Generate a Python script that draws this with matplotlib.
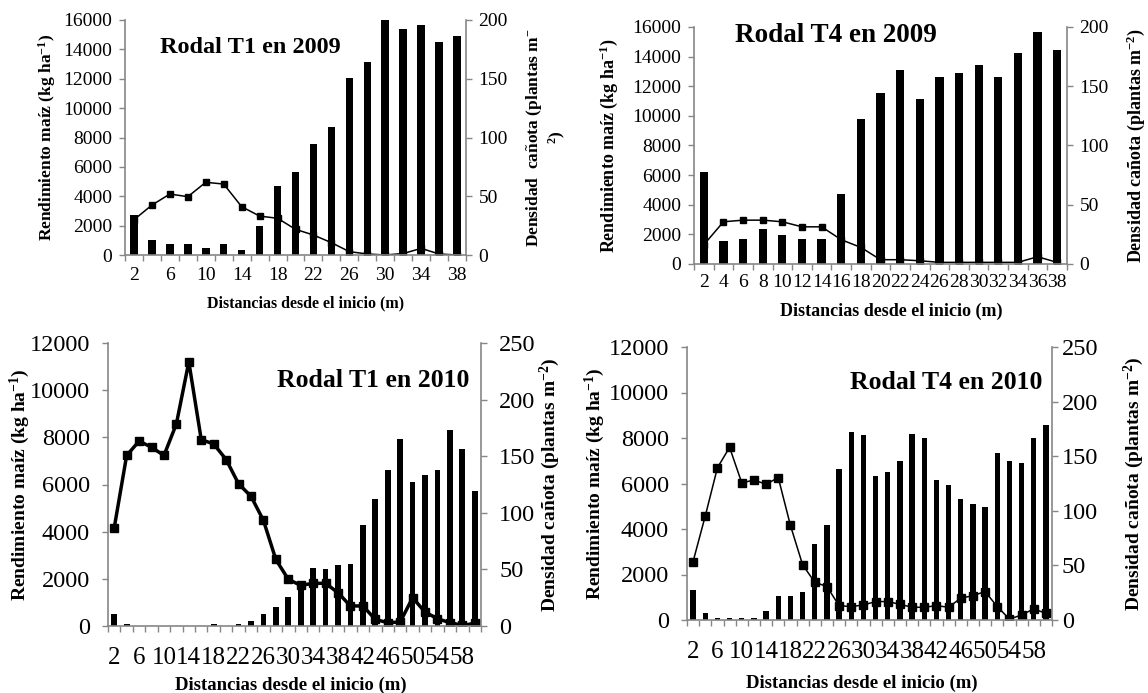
import numpy as np
import matplotlib
matplotlib.use("Agg")
import matplotlib.pyplot as plt
from matplotlib.ticker import FixedLocator, MultipleLocator, NullFormatter

plt.rcParams['font.family'] = ['Liberation Serif', 'DejaVu Serif']
plt.rcParams['mathtext.default'] = 'regular'

# distances from the start (m)
dist_2009 = [2, 4, 6, 8, 10, 12, 14, 16, 18, 20, 22, 24, 26, 28, 30, 32, 34, 36, 38]
dist_2010 = [2, 4, 6, 8, 10, 12, 14, 16, 18, 20, 22, 24, 26, 28, 30,
             32, 34, 36, 38, 40, 42, 44, 46, 48, 50, 52, 54, 56, 58, 60]

# Rodal T1 2009
t1_2009_maize = [2400, 3400, 4150, 3970, 4950, 4830, 3290, 2650, 2500, 1750,
                 1360, 840, 230, 70, 0, 100, 450, 70, 0]
t1_2009_weed = [34, 12.8, 9, 9, 5.7, 9, 4.3, 24.7, 59, 71,
                94.5, 109, 151, 164, 200, 192, 196, 181, 186]

# Rodal T4 2009
t4_2009_maize = [1300, 2850, 2960, 2960, 2850, 2510, 2510, 1640, 1120, 290,
                 290, 220, 110, 110, 110, 110, 110, 490, 110]
t4_2009_weed = [78, 19.4, 21, 29.5, 24.4, 21, 21, 59, 122.6, 144,
                164, 139, 158, 161, 168, 158, 178, 196, 181]

# Rodal T1 2010
t1_2010_maize = [4160, 7230, 7840, 7580, 7230, 8570, 11200, 7900, 7720, 7060,
                 6030, 5500, 4480, 2820, 1980, 1720, 1810, 1810, 1410, 850,
                 850, 280, 140, 170, 1200, 590, 310, 140, 30, 110]
t1_2010_weed = [11, 2, 0, 0, 0, 0, 0, 0, 2, 0,
                2, 4, 11, 17, 26, 37, 51, 50, 53.5, 55,
                89, 112, 138, 165, 127.6, 133, 138, 173.5, 156, 119]

# Rodal T4 2010
t4_2010_maize = [2570, 4570, 6690, 7590, 6030, 6150, 5970, 6260, 4160, 2430,
                 1660, 1470, 630, 590, 660, 810, 810, 690, 560, 560,
                 630, 560, 960, 1070, 1250, 590, 40, 220, 490, 290]
t4_2010_weed = [27.6, 6.4, 2, 2, 2, 2, 8.3, 22, 22, 25.4,
                70, 87, 138, 172.5, 169, 132, 135.6, 146, 170.6, 167,
                128, 124, 111, 106, 103.6, 153, 146, 144, 167, 178.6]

GREY = '#868686'
W, H = 1148, 693

fig = plt.figure(figsize=(W / 100, H / 100), dpi=100)


def px_rect(left, right, top, bottom):
    return [left / W, 1 - bottom / H, (right - left) / W, (bottom - top) / H]


def draw_panel(rect, dist, maize, weed, title, ymax, y2max, label_step,
               tick_fs, xpad, ypad, y2pad, lab_fs, xlab_fs, r_label,
               title_fs, title_xy, title_ha, lw, ms, bar_w,
               lcoords, rcoords, xcoords):
    ax = fig.add_axes(rect)
    ax2 = ax.twinx()
    x = np.arange(len(dist))

    ax2.bar(x, weed, width=bar_w, color='black')
    ax.plot(x, maize, color='black', marker='s', markersize=ms, linewidth=lw)
    ax.set_zorder(ax2.get_zorder() + 1)
    ax.patch.set_visible(False)

    ax.set_xlim(-0.5, len(dist) - 0.5)
    ax.set_ylim(0, ymax)
    ax2.set_ylim(0, y2max)
    ax.yaxis.set_major_locator(MultipleLocator(2000))
    ax2.yaxis.set_major_locator(MultipleLocator(50))

    # category labels at centres, tick marks between categories
    ax.xaxis.set_major_locator(FixedLocator(x[::label_step]))
    ax.set_xticklabels([str(d) for d in dist[::label_step]])
    ax.xaxis.set_minor_locator(FixedLocator(np.arange(len(dist) + 1) - 0.5))
    ax.xaxis.set_minor_formatter(NullFormatter())
    ax.tick_params(axis='x', which='major', length=0, labelsize=tick_fs[0], pad=xpad)
    ax.tick_params(axis='x', which='minor', length=4, width=1, color=GREY, direction='out')
    ax.tick_params(axis='y', length=4, width=1, color=GREY, direction='out',
                   labelsize=tick_fs[1], pad=ypad)
    ax2.tick_params(axis='y', length=4, width=1, color=GREY, direction='out',
                    labelsize=tick_fs[1], pad=y2pad)

    for s in ['top', 'right']:
        ax.spines[s].set_visible(False)
    for s in ['top', 'left', 'bottom']:
        ax2.spines[s].set_visible(False)
    for sp in [ax.spines['left'], ax.spines['bottom'], ax2.spines['right']]:
        sp.set_color(GREY)
        sp.set_linewidth(1.2)

    ax.set_ylabel('Rendimiento maíz (kg ha$^{-1}$)', fontsize=lab_fs, fontweight='bold')
    ax2.set_ylabel(r_label, fontsize=lab_fs, fontweight='bold')
    ax.set_xlabel('Distancias desde el inicio (m)', fontsize=xlab_fs, fontweight='bold')
    ax.yaxis.set_label_coords(*lcoords)
    ax2.yaxis.set_label_coords(*rcoords)
    ax.xaxis.set_label_coords(*xcoords)

    ax.text(title_xy[0], title_xy[1], title, transform=ax.transAxes, fontsize=title_fs,
            fontweight='bold', ha=title_ha, va='center')


draw_panel(px_rect(125, 466, 20, 255), dist_2009, t1_2009_maize, t1_2009_weed,
           'Rodal T1 en 2009', 16000, 200, 2, (14, 14), 8.5, 5, 5, 12.5, 11.5,
           'Densidad  cañota (plantas m$^{-}$\n$^{2}$)', 17.5, (0.367, 0.885), 'center',
           1.1, 5.0, 0.42, (-0.196, 0.5), (1.17, 0.5), (0.53, -0.17))

draw_panel(px_rect(694, 1067, 27, 264), dist_2009, t4_2009_maize, t4_2009_weed,
           'Rodal T4 en 2009', 16000, 200, 1, (14, 14), 7.5, 5, 5, 13, 13,
           'Densidad cañota (plantas m$^{-2}$)', 19.5, (0.381, 0.966), 'center',
           1.1, 5.0, 0.42, (-0.198, 0.5), (1.155, 0.5), (0.53, -0.165))

draw_panel(px_rect(108, 481, 343, 626), dist_2010, t1_2010_maize, t1_2010_weed,
           'Rodal T1 en 2010', 12000, 250, 2, (18, 17.5), 15, 9, 9, 14, 13.5,
           'Densidad cañota (plantas m$^{-2}$)', 18.5, (0.97, 0.869), 'right',
           2.5, 5.5, 0.46, (-0.204, 0.5), (1.153, 0.5), (0.49, -0.18))

draw_panel(px_rect(687, 1052, 347, 620), dist_2010, t4_2010_maize, t4_2010_weed,
           'Rodal T4 en 2010', 12000, 250, 2, (18, 17.5), 15, 9, 3, 14, 13.5,
           'Densidad cañota (plantas m$^{-2}$)', 18.5, (0.975, 0.869), 'right',
           1.1, 5.5, 0.45, (-0.22, 0.5), (1.19, 0.5), (0.48, -0.2))

fig.savefig('out.png', dpi=100)
